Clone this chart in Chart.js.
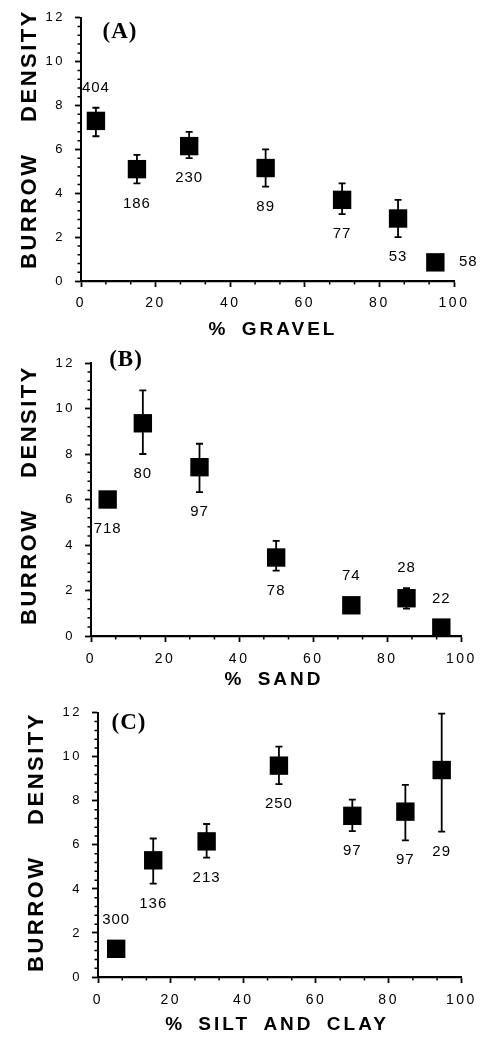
<!DOCTYPE html>
<html>
<head>
<meta charset="utf-8">
<title>Burrow density vs sediment</title>
<script src="https://cdn.jsdelivr.net/npm/chart.js@4.4.1/dist/chart.umd.min.js"></script>
<style>
  html, body { margin: 0; padding: 0; background: #fff; }
  #wrap { position: relative; width: 482px; height: 1038px; overflow: hidden; }
  canvas { position: absolute; left: 0; }
</style>
</head>
<body>
<div id="wrap">
  <canvas id="chartA" width="482" height="345" style="top:0px"></canvas>
  <canvas id="chartB" width="482" height="350" style="top:345px"></canvas>
  <canvas id="chartC" width="482" height="343" style="top:695px"></canvas>
</div>
<script>
// ---- data ----
const gravelX  = [4, 15, 29, 49.5, 70, 85, 95];
const gravelY  = [7.3, 5.1, 6.15, 5.15, 3.7, 2.85, 0.85];
const gravelHi = [7.9, 5.75, 6.8, 6.0, 4.45, 3.7, null];
const gravelLo = [6.6, 4.45, 5.6, 4.3, 3.05, 2.0, null];
const gravelN  = [404, 186, 230, 89, 77, 53, 58];

const sandX  = [4.5, 14, 29.3, 50, 70.3, 85.2, 94.6];
const sandY  = [6.0, 9.35, 7.42, 3.45, 1.35, 1.66, 0.37];
const sandHi = [null, 10.8, 8.45, 4.18, null, 2.1, null];
const sandLo = [null, 8.0, 6.32, 2.87, null, 1.2, null];
const sandN  = [718, 80, 97, 78, 74, 28, 22];

const siltX  = [5, 15.2, 29.9, 49.8, 70, 84.6, 94.6];
const siltY  = [1.28, 5.3, 6.16, 9.6, 7.32, 7.51, 9.4];
const siltHi = [null, 6.29, 6.95, 10.46, 8.06, 8.73, 11.96];
const siltLo = [null, 4.24, 5.42, 8.76, 6.63, 6.21, 6.6];
const siltN  = [300, 136, 213, 250, 97, 97, 29];

// where each sample-size label sits relative to its point
const gravelLabelPos = ["above", "below", "below", "below", "below", "below", "right"];
const sandLabelPos   = ["below", "below", "below", "below", "above", "above", "above"];
const siltLabelPos   = ["above", "below", "below", "below", "below", "below", "below"];

const xTickValues = [0, 20, 40, 60, 80, 100];
const yTickValues = [0, 2, 4, 6, 8, 10, 12];

const SANS = "'Liberation Sans', Arial, Helvetica, sans-serif";
const SERIF = "'Liberation Serif', 'Times New Roman', serif";

// extra drawing: minor ticks, error bars, n labels, titles
const decorPlugin = {
  id: "decor",
  beforeDraw(chart) {
    chart.ctx.letterSpacing = "2.5px";
  },
  afterDraw(chart, args, opts) {
    const ctx = chart.ctx;
    const xs = chart.scales.x, ys = chart.scales.y;
    const area = chart.chartArea;
    ctx.save();
    ctx.strokeStyle = "#000";
    ctx.fillStyle = "#000";

    // minor ticks
    ctx.lineWidth = 1.5;
    ctx.beginPath();
    for (let i = 1; i < 15; i++) {
      if (i % 3 === 0) continue;
      const px = xs.getPixelForValue(i * 20 / 3);
      ctx.moveTo(px, area.bottom);
      ctx.lineTo(px, area.bottom + 3.5);
    }
    for (let i = 1; i < 30; i++) {
      if (i % 5 === 0) continue;
      const py = ys.getPixelForValue(i * 0.4);
      ctx.moveTo(area.left - 3.5, py);
      ctx.lineTo(area.left, py);
    }
    ctx.stroke();

    // error bars
    const d = opts.series;
    ctx.lineWidth = 1.8;
    ctx.beginPath();
    d.x.forEach((xv, i) => {
      if (d.hi[i] == null) return;
      const px = xs.getPixelForValue(xv);
      const top = ys.getPixelForValue(d.hi[i]);
      const bot = ys.getPixelForValue(d.lo[i]);
      ctx.moveTo(px, top); ctx.lineTo(px, bot);
      ctx.moveTo(px - 3.5, top); ctx.lineTo(px + 3.5, top);
      ctx.moveTo(px - 3.5, bot); ctx.lineTo(px + 3.5, bot);
    });
    ctx.stroke();

    // sample size labels
    ctx.letterSpacing = "1px";
    ctx.font = "15px " + SANS;
    ctx.textAlign = "center";
    ctx.textBaseline = "middle";
    d.x.forEach((xv, i) => {
      const px = xs.getPixelForValue(xv);
      const py = ys.getPixelForValue(d.y[i]);
      const pos = d.pos[i];
      let lx = px, ly = py;
      if (pos === "below") {
        const edge = d.lo[i] == null ? py + 9 : Math.max(py + 9, ys.getPixelForValue(d.lo[i]));
        ly = edge + 20;
      } else if (pos === "above") {
        const edge = d.hi[i] == null ? py - 9 : Math.min(py - 9, ys.getPixelForValue(d.hi[i]));
        ly = edge - 20;
      } else {
        lx = px + 33;
      }
      ctx.fillText(String(d.n[i]), lx, ly);
    });

    // axis titles
    ctx.font = "bold 22px " + SANS;
    ctx.letterSpacing = "2.5px";
    ctx.wordSpacing = "22px";
    ctx.save();
    ctx.translate(opts.yTitleAt[0], opts.yTitleAt[1]);
    ctx.rotate(-Math.PI / 2);
    ctx.fillText("BURROW DENSITY", 0, 0);
    ctx.restore();

    ctx.font = "bold 19px " + SANS;
    ctx.letterSpacing = "3px";
    ctx.wordSpacing = "5px";
    ctx.fillText(opts.xTitle, opts.xTitleAt[0], opts.xTitleAt[1]);

    // panel letter
    ctx.font = "bold 23px " + SERIF;
    ctx.letterSpacing = "1px";
    ctx.wordSpacing = "0px";
    ctx.fillText(opts.letter, opts.letterAt[0], opts.letterAt[1]);

    ctx.restore();
    ctx.letterSpacing = "0px";
  }
};

function makePanel(id, p) {
  const ctx = document.getElementById(id).getContext("2d");
  const points = p.x.map((xv, i) => ({ x: xv, y: p.y[i] }));
  return new Chart(ctx, {
    type: "scatter",
    data: {
      datasets: [{
        data: points,
        pointStyle: "rect",
        pointRadius: 13,
        pointHoverRadius: 13,
        backgroundColor: "#000",
        borderColor: "#000",
        borderWidth: 0,
        clip: false
      }]
    },
    options: {
      responsive: false,
      animation: false,
      events: [],
      layout: { padding: p.padding },
      plugins: {
        legend: { display: false },
        tooltip: { enabled: false },
        decor: {
          series: p,
          xTitle: p.xTitle,
          xTitleAt: p.xTitleAt,
          yTitleAt: p.yTitleAt,
          letter: p.letter,
          letterAt: p.letterAt
        }
      },
      scales: {
        x: {
          type: "linear",
          min: 0, max: 100,
          afterBuildTicks: s => { s.ticks = xTickValues.map(v => ({ value: v })); },
          afterFit: s => { s.height = p.xAxisHeight; },
          ticks: {
            color: "#000",
            font: { family: SANS, size: 14 },
            padding: p.xTickPad,
            maxRotation: 0,
            autoSkip: false
          },
          grid: { drawOnChartArea: false, drawTicks: true, tickLength: 6, tickColor: "#000", tickWidth: 1.8 },
          border: { display: true, color: "#000", width: 2.2 }
        },
        y: {
          type: "linear",
          min: 0, max: 12,
          afterBuildTicks: s => { s.ticks = yTickValues.map(v => ({ value: v })); },
          afterFit: s => { s.width = p.yAxisWidth; },
          ticks: {
            color: "#000",
            font: { family: SANS, size: 13 },
            padding: 10,
            autoSkip: false
          },
          grid: { drawOnChartArea: false, drawTicks: true, tickLength: 6, tickColor: "#000", tickWidth: 1.8 },
          border: { display: true, color: "#000", width: 2 }
        }
      }
    },
    plugins: [decorPlugin]
  });
}

makePanel("chartA", {
  x: gravelX, y: gravelY, hi: gravelHi, lo: gravelLo, n: gravelN, pos: gravelLabelPos,
  padding: { left: 0, top: 13, right: 28, bottom: 0 },
  yAxisWidth: 81, xAxisHeight: 64, xTickPad: 8,
  xTitle: "% GRAVEL", xTitleAt: [273, 330], yTitleAt: [30, 139],
  letter: "(A)", letterAt: [120, 32]
});

makePanel("chartB", {
  x: sandX, y: sandY, hi: sandHi, lo: sandLo, n: sandN, pos: sandLabelPos,
  padding: { left: 0, top: 18, right: 19, bottom: 0 },
  yAxisWidth: 91, xAxisHeight: 59, xTickPad: 9,
  xTitle: "% SAND", xTitleAt: [274, 335], yTitleAt: [30, 150],
  letter: "(B)", letterAt: [126, 15]
});

makePanel("chartC", {
  x: siltX, y: siltY, hi: siltHi, lo: siltLo, n: siltN, pos: siltLabelPos,
  padding: { left: 0, top: 10, right: 15, bottom: 0 },
  yAxisWidth: 98, xAxisHeight: 61, xTickPad: 9,
  xTitle: "% SILT AND CLAY", xTitleAt: [277, 330], yTitleAt: [37, 147],
  letter: "(C)", letterAt: [129, 28]
});
</script>
</body>
</html>
